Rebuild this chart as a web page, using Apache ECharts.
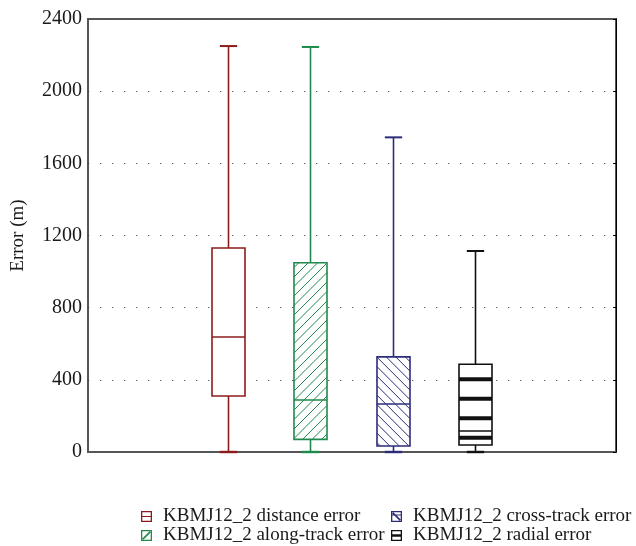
<!DOCTYPE html>
<html>
<head>
<meta charset="utf-8">
<script src="https://cdn.jsdelivr.net/npm/echarts@6/dist/echarts.min.js"></script>
<style>
  html, body { margin: 0; padding: 0; background: #ffffff; }
  #chart { width: 636px; height: 546px; }
</style>
</head>
<body>
<div id="chart"></div>
<script>
// Box-plot statistics of the KBMJ12_2 position errors (metres)
const categories = ['distance', 'along-track', 'cross-track', 'radial'];
const seriesNames = [
  'KBMJ12_2 distance error',
  'KBMJ12_2 along-track error',
  'KBMJ12_2 cross-track error',
  'KBMJ12_2 radial error'
];
const lowerWhisker  = [0, 0, 0, 0];
const lowerQuartile = [310, 70, 33, 39];
const medianValue   = [637, 288, 266, 116];
const upperQuartile = [1131, 1049, 527, 486];
const upperWhisker  = [2250, 2245, 1744, 1114];
const yTicks = [0, 400, 800, 1200, 1600, 2000, 2400];

const FONT = '"Liberation Serif", "DejaVu Serif", serif';

// Drawing style of each box: outline colour and fill pattern
const boxStyles = [
  { color: '#8c1c1c', pattern: 'none' },
  { color: '#1f8a4c', pattern: 'forward' },
  { color: '#2c2c7c', pattern: 'backward' },
  { color: '#111111', pattern: 'bands' }
];

// Legend glyphs: square frame (drawn as a ring) plus an inner mark
const ring = 'M0,0 L11,0 L11,11 L0,11 Z M1.3,1.3 L1.3,9.7 L9.7,9.7 L9.7,1.3 Z ';
const legendIcons = [
  'path://' + ring + 'M1,4.9 L10,4.9 L10,6.1 L1,6.1 Z',
  'path://' + ring + 'M1.3,8.6 L8.6,1.3 L9.7,2.4 L2.4,9.7 Z',
  'path://' + ring + 'M1.3,2.4 L2.4,1.3 L9.7,8.6 L8.6,9.7 Z M1,3.4 L10,3.4 L10,4.4 L1,4.4 Z',
  'path://' + ring + 'M1,4.2 L10,4.2 L10,6.8 L1,6.8 Z'
];

// Diagonal hatch lines clipped to a rectangle
function hatchLines(x0, y0, x1, y1, step, dir, color) {
  const out = [];
  if (dir === 'forward') {           // "/" : x + y = c
    for (let c = x0 + y0 + step / 2; c < x1 + y1; c += step) {
      const xa = Math.max(x0, c - y1), xb = Math.min(x1, c - y0);
      if (xb <= xa) continue;
      out.push({ type: 'line', shape: { x1: xa, y1: c - xa, x2: xb, y2: c - xb },
        style: { stroke: color, lineWidth: 1 } });
    }
  } else {                           // "\" : y - x = c
    for (let c = y0 - x1 + step / 2; c < y1 - x0; c += step) {
      const xa = Math.max(x0, y0 - c), xb = Math.min(x1, y1 - c);
      if (xb <= xa) continue;
      out.push({ type: 'line', shape: { x1: xa, y1: xa + c, x2: xb, y2: xb + c },
        style: { stroke: color, lineWidth: 1 } });
    }
  }
  return out;
}

function makeRenderer(st) {
  return function (params, api) {
    const idx = api.value(0);
    const band = api.size([1, 0])[0];
    const cx = Math.round(api.coord([idx, 0])[0]) + 0.5;
    const y = (k) => api.coord([idx, api.value(k)])[1];
    const yLow = y(1), yQ1 = y(2), yMed = y(3), yQ3 = y(4), yHigh = y(5);
    const boxW = band * 0.4, capW = band * 0.21;
    const bx0 = cx - boxW / 2, bx1 = cx + boxW / 2;
    const lw = 1.6;
    const line = (xa, ya, xb, yb, w) => ({
      type: 'line', shape: { x1: xa, y1: ya, x2: xb, y2: yb },
      style: { stroke: st.color, lineWidth: w || lw }
    });
    const children = [];
    // whiskers and caps
    children.push(line(cx, yQ3, cx, yHigh));
    children.push(line(cx, yLow, cx, yQ1));
    children.push(line(cx - capW / 2, yHigh, cx + capW / 2, yHigh, 2));
    children.push(line(cx - capW / 2, yLow, cx + capW / 2, yLow, 2.4));
    // box fill
    children.push({ type: 'rect', shape: { x: bx0, y: yQ3, width: boxW, height: yQ1 - yQ3 },
      style: { fill: '#ffffff', stroke: null } });
    // fill pattern
    if (st.pattern === 'forward' || st.pattern === 'backward') {
      hatchLines(bx0, yQ3, bx1, yQ1, 9.5, st.pattern, st.color).forEach(c => children.push(c));
    } else if (st.pattern === 'bands') {
      for (let yy = yQ3 + 15; yy < yQ1 - 4; yy += 19.5) {
        children.push({ type: 'rect', shape: { x: bx0, y: yy - 2, width: boxW, height: 4 },
          style: { fill: st.color } });
      }
    }
    // box outline and median
    children.push({ type: 'rect', shape: { x: bx0, y: yQ3, width: boxW, height: yQ1 - yQ3 },
      style: { fill: null, stroke: st.color, lineWidth: lw } });
    children.push(line(bx0, yMed, bx1, yMed));
    return { type: 'group', children: children };
  };
}

const series = seriesNames.map((name, i) => ({
  name: name,
  type: 'custom',
  xAxisIndex: 1,
  yAxisIndex: 2,
  itemStyle: { color: boxStyles[i].color },
  renderItem: makeRenderer(boxStyles[i]),
  encode: { x: 0, y: [1, 2, 3, 4, 5] },
  data: [[i, lowerWhisker[i], lowerQuartile[i], medianValue[i], upperQuartile[i], upperWhisker[i]]],
  z: 5
}));

const yMin = yTicks[0], yMax = yTicks[yTicks.length - 1], yStep = yTicks[1] - yTicks[0];

const legendBase = {
  orient: 'vertical',
  top: 507,
  height: 39,
  padding: 0,
  itemWidth: 11,
  itemHeight: 11,
  itemGap: 0,
  selectedMode: false,
  textStyle: { fontFamily: FONT, fontSize: 19, lineHeight: 18, color: '#1a1a1a',
    padding: [0, 0, 0, 6] }
};

const option = {
  backgroundColor: '#ffffff',
  animation: false,
  grid: [
    { left: 88, top: 19, width: 528, height: 433, show: true,
      borderColor: '#555555', borderWidth: 2, backgroundColor: 'transparent' },
    { left: 186.5, top: 19, width: 330, height: 433 }
  ],
  xAxis: [
    { gridIndex: 0, type: 'value', min: 0, max: 1, show: false },
    { gridIndex: 1, type: 'category', data: categories, boundaryGap: true, show: false }
  ],
  yAxis: [
    {
      gridIndex: 0, type: 'value', min: yMin, max: yMax, interval: yStep,
      name: 'Error (m)', nameLocation: 'middle', nameGap: 60,
      nameTextStyle: { fontFamily: FONT, fontSize: 19, color: '#1a1a1a' },
      axisLine: { show: true, lineStyle: { color: '#555555', width: 2 } },
      axisTick: { show: false },
      axisLabel: { fontFamily: FONT, fontSize: 20, color: '#1a1a1a', margin: 6,
        formatter: (v) => String(v) },
      splitLine: { show: true, lineStyle: { color: '#5a5a5a', width: 1, type: [1.3, 10.7] } }
    },
    {
      gridIndex: 0, type: 'value', min: yMin, max: yMax, interval: yStep, position: 'right',
      axisLine: { show: true, lineStyle: { color: '#000000', width: 1 } },
      axisTick: { show: true, inside: true, length: 3, lineStyle: { color: '#000000' } },
      axisLabel: { show: false },
      splitLine: { show: false }
    },
    { gridIndex: 1, type: 'value', min: yMin, max: yMax, show: false }
  ],
  legend: [
    Object.assign({}, legendBase, {
      left: 141,
      data: [0, 1].map(i => ({ name: seriesNames[i], icon: legendIcons[i] }))
    }),
    Object.assign({}, legendBase, {
      left: 391,
      data: [2, 3].map(i => ({ name: seriesNames[i], icon: legendIcons[i] }))
    })
  ],
  series: series
};

const chart = echarts.init(document.getElementById('chart'), null, { renderer: 'canvas' });
chart.setOption(option);
</script>
</body>
</html>
